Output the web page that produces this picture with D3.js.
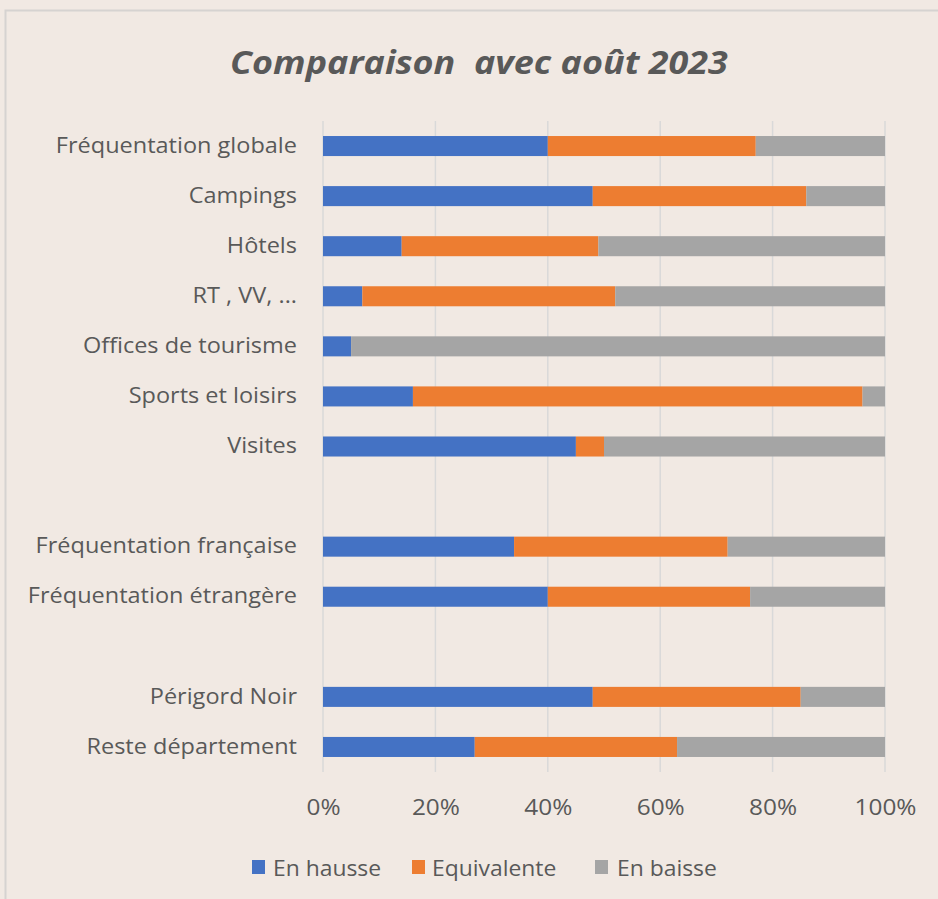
<!DOCTYPE html>
<html><head><meta charset="utf-8">
<script src="https://cdn.jsdelivr.net/npm/d3@7"></script>
<style>
html,body{margin:0;padding:0;background:#f1e9e3;}
svg{display:block;}
</style></head>
<body>
<svg id="chart" width="938" height="899"></svg>
<script>
const categories = ["Fréquentation globale","Campings","Hôtels","RT , VV, ...","Offices de tourisme","Sports et loisirs","Visites","","Fréquentation française","Fréquentation étrangère"," ","Périgord Noir","Reste département"];
const enHausse    = [40,48,14,7,5,16,45,null,34,40,null,48,27];
const equivalente = [37,38,35,45,0,80,5,null,38,36,null,37,36];
const enBaisse    = [23,14,51,48,95,4,50,null,28,24,null,15,37];
const seriesNames = ["En hausse","Equivalente","En baisse"];
const seriesColors = ["#4472C4","#ED7D31","#A5A5A5"];
const tickValues = [0,0.2,0.4,0.6,0.8,1];

const svg = d3.select("#chart");
const W = 938, H = 899;
const FONT = "'Open Sans', sans-serif";
const TXT = "#595959";
svg.append("rect").attr("x",0).attr("y",0).attr("width",W).attr("height",H).attr("fill","#f1e9e3");
svg.append("rect").attr("x",5.5).attr("y",10.5).attr("width",W+20).attr("height",H+20)
  .attr("fill","#f1e9e3").attr("stroke","#d6d3d1").attr("stroke-width",2);

svg.append("text").attr("transform","translate(479,74) scale(1.09,1)").attr("text-anchor","middle")
  .attr("font-family",FONT).attr("font-style","italic").attr("font-weight","bold")
  .attr("font-size",33).attr("fill",TXT).attr("xml:space","preserve")
  .text("Comparaison  avec août 2023");

const x = d3.scaleLinear().domain([0,1]).range([323,885]);
const y = d3.scaleBand().domain(categories).range([121,772]).paddingInner(0.6).paddingOuter(0.3);

// gridlines
svg.append("g").selectAll("line").data(tickValues).join("line")
  .attr("x1",d=>x(d)).attr("x2",d=>x(d)).attr("y1",121).attr("y2",772)
  .attr("stroke","#d9d9d9").attr("stroke-width",1.5);

const rows = categories.map((c,i)=>({cat:c, vals:[enHausse[i],equivalente[i],enBaisse[i]]}));
const stacked = [];
rows.forEach(r=>{
  if(r.vals[0]==null) return;
  const tot = r.vals.reduce((a,b)=>a+b,0);
  let acc = 0;
  r.vals.forEach((v,k)=>{
    stacked.push({cat:r.cat,k,x0:acc/tot,x1:(acc+v)/tot});
    acc+=v;
  });
});
svg.append("g").selectAll("rect").data(stacked.filter(d=>d.x1>d.x0)).join("rect")
  .attr("x",d=>x(d.x0)).attr("width",d=>x(d.x1)-x(d.x0))
  .attr("y",d=>y(d.cat)).attr("height",y.bandwidth())
  .attr("fill",d=>seriesColors[d.k]);

// category axis
const yAxis = d3.axisLeft(y).tickSize(0).tickPadding(0);
const gy = svg.append("g").attr("transform","translate(297,0)").call(yAxis);
gy.select(".domain").remove();
gy.selectAll("text").attr("x",0).attr("font-family",FONT).attr("font-size",21).attr("fill",TXT)
  .attr("transform","scale(1.12,1)");

// value axis
const xAxis = d3.axisBottom(x).tickValues(tickValues).tickFormat(d3.format(".0%")).tickSize(0).tickPadding(0);
const gx = svg.append("g").attr("transform","translate(0,815)").call(xAxis);
gx.select(".domain").remove();
gx.selectAll("text").attr("y",0).attr("dy",0).attr("font-family",FONT).attr("font-size",21).attr("fill",TXT)
  .attr("transform","scale(1.16,1)");

// legend
const legendSq = [252,412,595];
const legendTx = [273,432,617];
const lg = svg.append("g");
seriesNames.forEach((n,i)=>{
  lg.append("rect").attr("x",legendSq[i]).attr("y",860).attr("width",13).attr("height",14).attr("fill",seriesColors[i]);
  lg.append("text").attr("transform",`translate(${legendTx[i]},876) scale(1.09,1)`).attr("font-family",FONT)
    .attr("font-size",21).attr("fill",TXT).text(n);
});
</script>
</body></html>
